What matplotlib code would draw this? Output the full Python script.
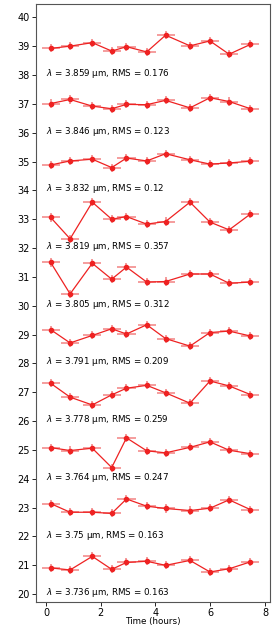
import numpy as np
import matplotlib.pyplot as plt

# time of each exposure (hours)
time = [0.17, 0.88, 1.69, 2.40, 2.94, 3.68, 4.37, 5.26, 5.99, 6.69, 7.47]
time_err = 0.33

wavelengths = [3.736, 3.75, 3.764, 3.778, 3.791, 3.805, 3.819, 3.832, 3.846, 3.859]
rms = [0.163, 0.163, 0.247, 0.259, 0.209, 0.312, 0.357, 0.12, 0.123, 0.176]

# light curves, already offset
flux = [
    [20.91, 20.84, 21.31, 20.86, 21.10, 21.14, 21.00, 21.17, 20.77, 20.88, 21.12],
    [23.14, 22.84, 22.84, 22.80, 23.30, 23.05, 22.97, 22.90, 22.98, 23.27, 22.93],
    [25.08, 24.98, 25.06, 24.39, 25.42, 24.97, 24.90, 25.09, 25.28, 24.99, 24.87],
    [27.31, 26.83, 26.56, 26.91, 27.14, 27.24, 26.98, 26.62, 27.39, 27.22, 26.92],
    [29.17, 28.71, 28.97, 29.20, 29.02, 29.34, 28.86, 28.60, 29.07, 29.12, 28.95],
    [31.50, 30.41, 31.47, 30.92, 31.34, 30.82, 30.84, 31.10, 31.10, 30.78, 30.82],
    [33.06, 32.32, 33.59, 33.00, 33.09, 32.83, 32.92, 33.59, 32.90, 32.63, 33.18],
    [34.88, 35.02, 35.08, 34.79, 35.12, 35.02, 35.27, 35.06, 34.91, 34.95, 35.01],
    [37.01, 37.15, 36.92, 36.83, 36.98, 36.97, 37.12, 36.86, 37.21, 37.08, 36.83],
    [38.92, 39.00, 39.12, 38.83, 38.98, 38.80, 39.38, 39.01, 39.18, 38.72, 39.06],
]
flux_err = 0.14
label_y = [20.05 + 2*i for i in range(10)]

fig = plt.figure(figsize=(2.74, 6.29), dpi=100)
ax = fig.add_axes([0.130, 0.043, 0.855, 0.9506])

for i in range(len(wavelengths)):
    ax.errorbar(time, flux[i], xerr=time_err, yerr=flux_err, fmt='none',
                ecolor='#f07070', elinewidth=1.2, alpha=0.8)
    ax.plot(time, flux[i], color='#ee2222', lw=0.9, marker='o', ms=3)
    ax.text(0, label_y[i], r'$\lambda$ = ' + str(wavelengths[i]) + ' µm, RMS = ' + str(rms[i]),
            fontsize=6.3, va='center', ha='left')

ax.set_xlim(-0.38, 8.18)
ax.set_ylim(19.73, 40.46)
ax.set_yticks(np.arange(20, 41, 1))
ax.set_xticks([0, 2, 4, 6, 8])
ax.tick_params(labelsize=7, length=3, width=0.6, pad=1.5)
ax.set_xlabel('Time (hours)', fontsize=6.3, va='center')
ax.xaxis.set_label_coords(0.5, -0.033)
for s in ax.spines.values():
    s.set_linewidth(0.8)
    s.set_color('#555555')

fig.savefig('out.png', dpi=100)
